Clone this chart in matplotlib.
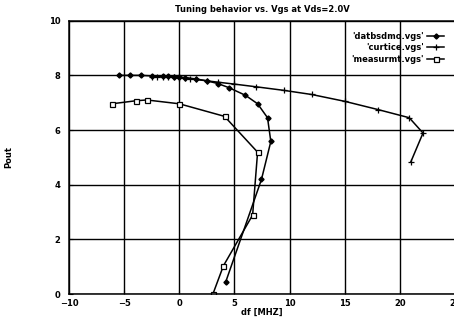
import matplotlib
matplotlib.use("Agg")
import matplotlib.pyplot as plt

# datbsdmo.vgs
datb_df = [-5.5, -4.5, -3.5, -2.5, -1.5, -1.0, -0.5, 0.0, 0.5, 1.5, 2.5, 3.5, 4.5, 6.0, 7.1, 8.0, 8.3, 7.45, 4.2]
datb_pout = [8.0, 8.0, 8.0, 7.98, 7.97, 7.96, 7.95, 7.94, 7.92, 7.87, 7.8, 7.7, 7.55, 7.27, 6.96, 6.45, 5.58, 4.19, 0.43]

# curtice.vgs
curt_df = [-2.5, -2.0, -1.5, -1.0, -0.5, 0.0, 0.5, 1.0, 1.5, 2.5, 3.5, 5.0, 7.0, 9.5, 12.0, 15.0, 18.0, 20.85, 22.1, 21.0]
curt_pout = [7.95, 7.95, 7.95, 7.94, 7.93, 7.92, 7.9, 7.88, 7.85, 7.8, 7.75, 7.68, 7.58, 7.45, 7.3, 7.05, 6.75, 6.45, 5.89, 4.84]

# measurmt.vgs
meas_df = [-6.1, -3.95, -2.95, 0.0, 4.1, 7.1, 6.65, 4.0, 3.05]
meas_pout = [6.96, 7.07, 7.1, 6.96, 6.5, 5.19, 2.89, 1.03, 0.0]

plt.rcParams['font.family'] = ['DejaVu Sans']
plt.rcParams['font.weight'] = 'bold'
plt.rcParams['font.size'] = 6

fig = plt.figure(figsize=(4.54, 3.24), dpi=100)
ax = fig.add_axes([69/454, 1-294/324, 386/454, (294-20.7)/324])

ax.plot(datb_df, datb_pout, 'k-', marker='D', ms=2.6, lw=1.1, label="'datbsdmo.vgs'")
ax.plot(curt_df, curt_pout, 'k-', marker='+', ms=5, mew=0.9, lw=1.1, label="'curtice.vgs'")
ax.plot(meas_df, meas_pout, 'k-', marker='s', ms=3.6, mfc='white', mew=0.9, lw=1.1, label="'measurmt.vgs'")

ax.set_xlim(-10, 25)
ax.set_ylim(0, 10)
ax.set_xticks(range(-10, 26, 5))
ax.set_yticks(range(0, 11, 2))
ax.grid(True, color='black', lw=1.0)
ax.set_axisbelow(True)
ax.tick_params(direction='in', length=3, width=0.8, labelsize=6)
ax.tick_params(axis='x', pad=3.5)
ax.tick_params(axis='y', pad=6)
for s in ax.spines.values():
    s.set_linewidth(1.1)

ax.set_title('Tuning behavior vs. Vgs at Vds=2.0V', fontsize=6, fontweight='bold', pad=6)
ax.set_xlabel('df [MHZ]', fontsize=6, fontweight='bold', labelpad=0)
ax.set_ylabel('Pout', fontsize=6, fontweight='bold')
ax.yaxis.set_label_coords(-0.145, 0.5)

leg = ax.legend(loc='upper right', markerfirst=False, frameon=False, fontsize=6,
                handlelength=2.0, handletextpad=0.4, labelspacing=0.3,
                borderaxespad=0.9)

fig.savefig('out.png', dpi=100)
